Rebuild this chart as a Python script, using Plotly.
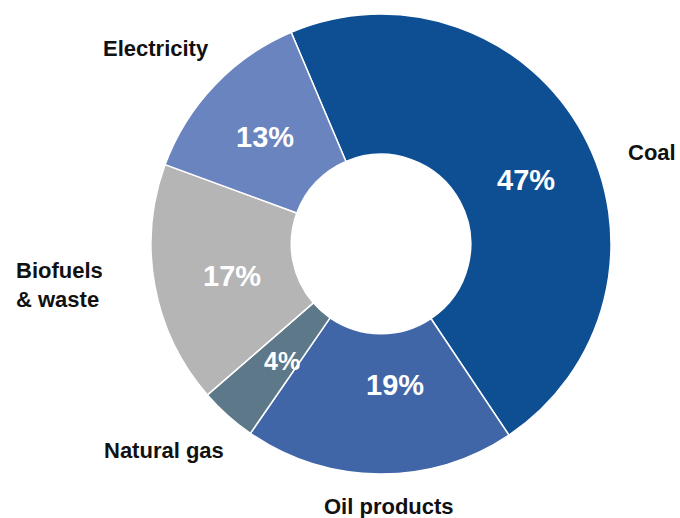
import plotly.graph_objects as go

categories = ["Coal", "Oil products", "Natural gas", "Biofuels & waste", "Electricity"]
shares = [47, 19, 4, 17, 13]
colors = ["#0E4F94", "#4066A8", "#5D7889", "#B5B5B5", "#6A84C0"]
outside_labels = ["Coal", "Oil products", "Natural gas", "Biofuels<br>& waste", "Electricity"]

FONT = "Liberation Sans, Arial, sans-serif"

fig = go.Figure(go.Pie(
    labels=categories,
    values=shares,
    sort=False,
    direction="clockwise",
    rotation=-23,
    hole=0.39,
    marker=dict(colors=colors, line=dict(color="white", width=1.5)),
    textinfo="none",
    domain=dict(x=[151/680, 611/680], y=[44/518, 504/518]),
    showlegend=False,
    hoverinfo="label+percent",
))

# outside category labels (pixel centre positions)
label_pos = {
    "Coal": (652, 153, "center"),
    "Oil products": (389, 506, "center"),
    "Natural gas": (164, 450, "center"),
    "Biofuels & waste": (14, 285, "left"),
    "Electricity": (156, 48, "center"),
}
# percentage labels inside the ring (pixel centre positions, font size)
pct_pos = {
    "Coal": (526, 180, 29),
    "Oil products": (395, 385, 29),
    "Natural gas": (282, 361, 25),
    "Biofuels & waste": (232, 276, 29),
    "Electricity": (265, 137, 29),
}

for cat, txt, val in zip(categories, outside_labels, shares):
    x, y, al = label_pos[cat]
    fig.add_annotation(
        x=x / 680, y=1 - y / 518, xref="paper", yref="paper",
        text=txt, showarrow=False, align=al,
        xanchor="left" if al == "left" else "center", yanchor="middle",
        font=dict(family=FONT, size=22, color="#111111", weight="bold"),
    )
    px, py, fs = pct_pos[cat]
    fig.add_annotation(
        x=px / 680, y=1 - py / 518, xref="paper", yref="paper",
        text=f"{val}%", showarrow=False,
        xanchor="center", yanchor="middle",
        font=dict(family=FONT, size=fs, color="white", weight="bold"),
    )

fig.update_layout(
    width=680, height=518,
    margin=dict(l=0, r=0, t=0, b=0),
    paper_bgcolor="white", plot_bgcolor="white",
)
fig.write_html("out.html", config={"displayModeBar": False},
               post_script="document.body.style.margin='0';")
